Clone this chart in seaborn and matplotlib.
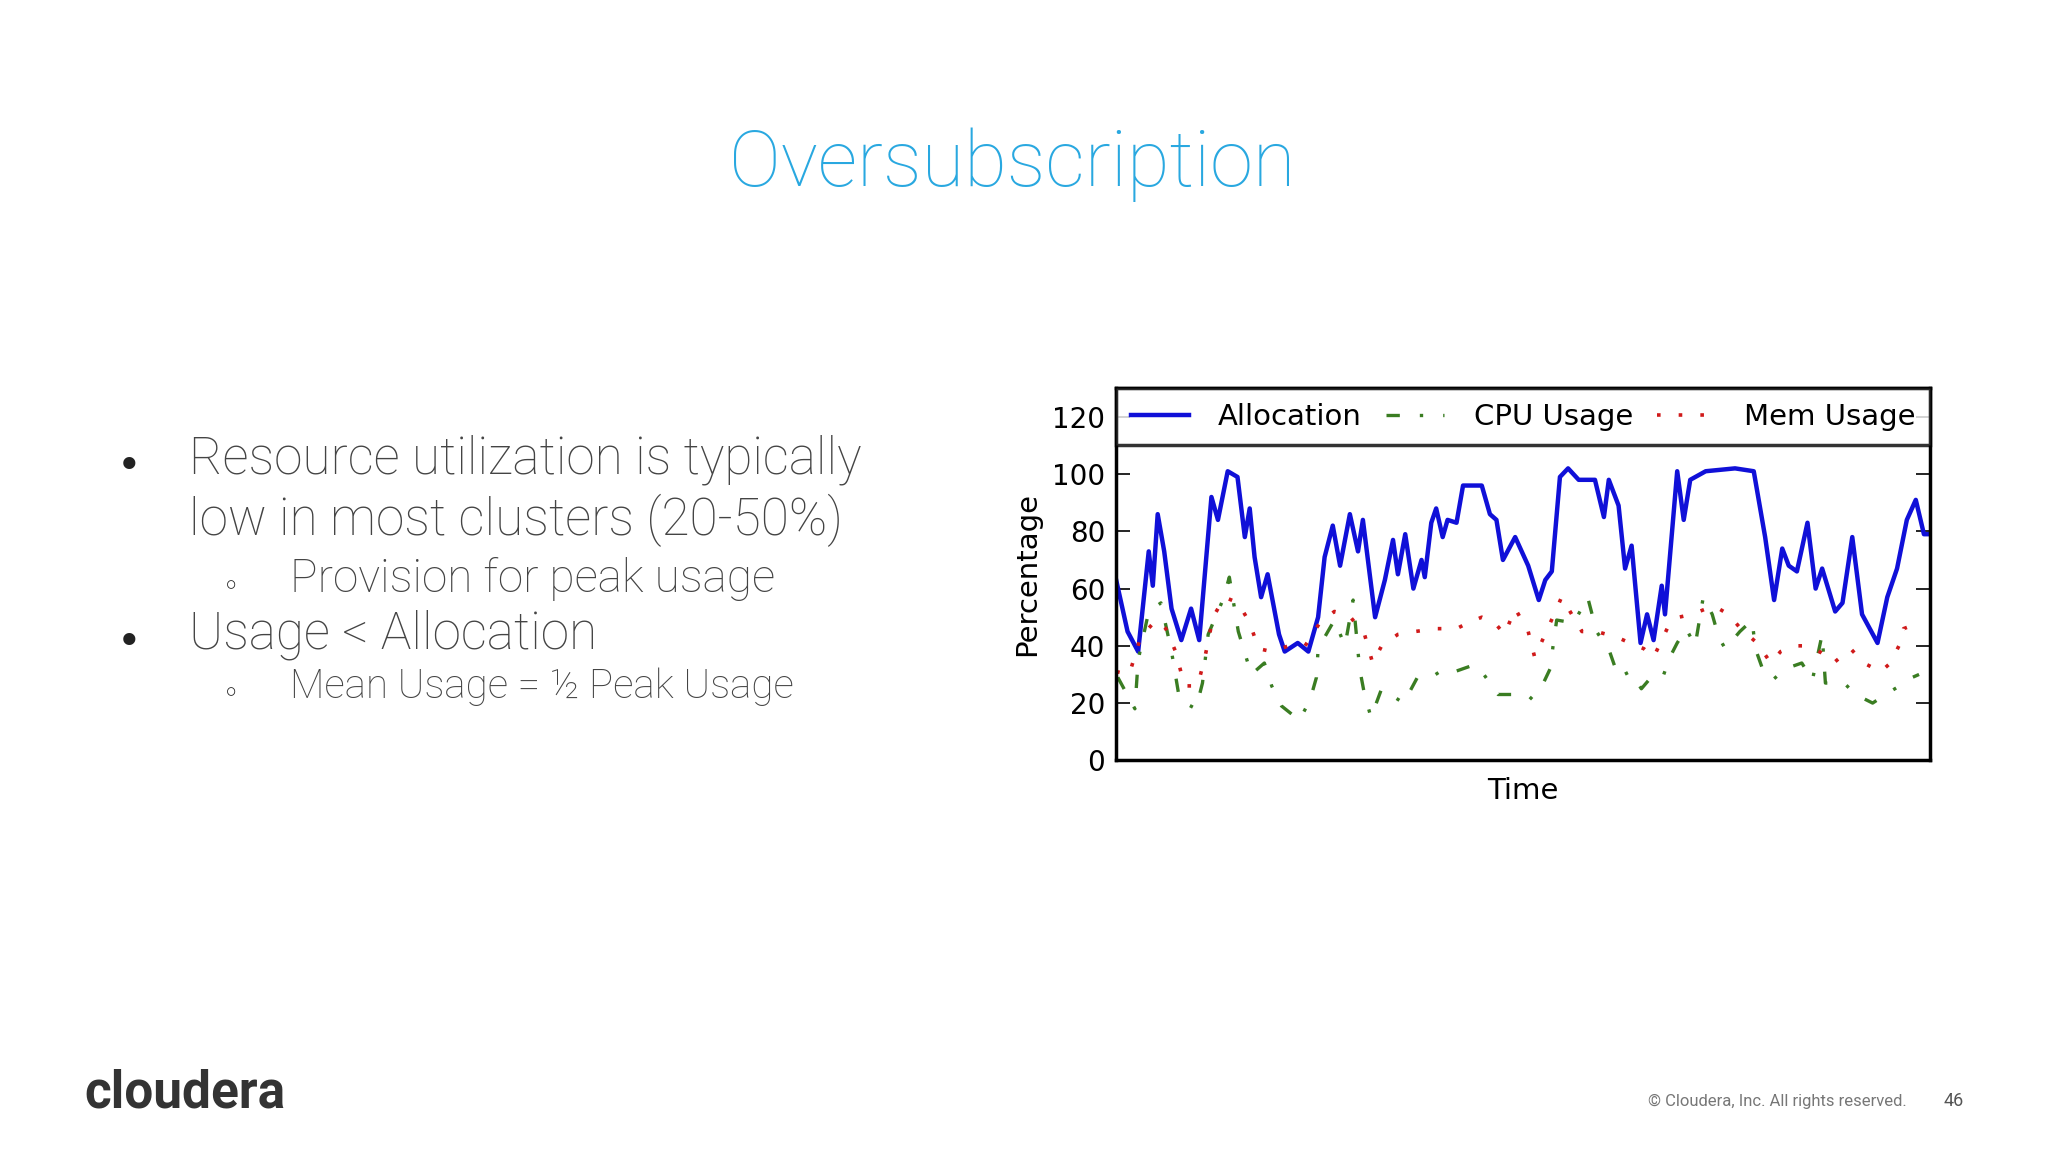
import matplotlib
matplotlib.use("Agg")
import matplotlib.pyplot as plt
import seaborn as sns
import pandas as pd

alloc_t = [0,1.4,2.7,4,4.5,5.1,5.9,6.8,8,9.2,10.2,11.7,12.5,13.7,14.9,15.8,16.4,17,17.8,18.6,20,20.7,22.3,23.6,24.8,25.6,26.6,27.5,28.7,29.7,30.3,31.8,33,34,34.6,35.5,36.5,37.5,37.9,38.7,39.3,40.1,40.7,41.8,42.6,44.9,45.9,46.7,47.5,49,50.6,51.9,52.7,53.5,54.5,55.5,56.8,58.8,59.9,60.5,61.7,62.5,63.3,64.4,65.2,66,67,67.4,68.9,69.7,70.5,72.4,76,78.3,79.7,80.8,81.8,82.6,83.6,84.9,85.9,86.7,88.3,89.2,90.4,91.6,93.5,94.7,95.9,97.1,98.2,99.2,100]
alloc_v = [63,45,38,73,61,86,73,53,42,53,42,92,84,101,99,78,88,71,57,65,44,38,41,38,50,71,82,68,86,73,84,50,63,77,65,79,60,70,64,83,88,78,84,83,96,96,86,84,70,78,68,56,63,66,99,102,98,98,85,98,89,67,75,41,51,42,61,51,101,84,98,101,102,101,78,56,74,68,66,83,60,67,52,55,78,51,41,57,67,84,91,79,79]

cpu_t = [0.2,2.3,2.7,4,5.5,6.8,7.8,9.8,10.6,11.3,13.1,13.9,15,16.6,18.2,19.1,20.3,22.5,23.8,24.6,24.8,26.8,28.1,29.1,29.9,30.5,31.3,32.6,35.3,37,38.7,40.3,41.6,43.6,44.4,46.9,48.6,50.7,52.3,53.3,53.7,54.1,56.2,57.9,59,60.6,61.7,63.1,64.5,65.4,67,68,68.9,70,71.1,72.1,73.2,74,74.8,76.6,78.1,78.5,79.5,80.6,82.2,84.2,85.5,86.7,87.1,89.4,90.8,92.9,94.5,96.2,97.8,98.6]
cpu_v = [29,18,35,52,55,38,21,18,27,44,56,64,45,30,34,26,19,14,21,29,39,49,40,56,32,23,15,25,20,29,29,32,31,33,33,23,23,21,26,32,41,49,48,57,45,38,29,31,25,28,28,36,41,46,40,57,51,43,39,45,49,39,31,28,32,34,28,44,27,27,23,20,23,26,29,30]

mem_t = [0,1.6,3,4.9,6.1,7.3,8.4,10,10.9,11.9,13.3,15,16.4,17.5,19.1,21.2,23.2,25,26.8,28.5,30.5,31.5,32.6,34.6,36.7,39.3,41.8,43.2,44.9,46.5,47.7,49,50.6,51.4,54.1,54.7,57.2,59,61.5,63.1,64.8,66,68,69.1,70.7,73.4,75.2,76.7,78.7,80.4,81.6,83.4,85.3,86.9,88.1,90.2,91.8,93.9,95.1,96.3,96.7,98.6]
mem_v = [31,30,43,49,46,38,26,26,36,50,57,55,48,39,38,40,40,48,52,51,44,34,40,44,45,46,46,48,50,48,44,53,45,36,53,57,45,45,43,41,39,36,48,50,51,54,51,46,41,34,38,40,40,37,34,39,34,31,34,41,46,48]

y_ticks = [0, 20, 40, 60, 80, 100, 120]

fig = plt.figure(figsize=(20.48, 11.52), dpi=100)
fig.patch.set_facecolor("white")

ax = fig.add_axes([0.545, 0.340, 0.3976, 0.323])
sns.lineplot(x=alloc_t, y=alloc_v, ax=ax, color="#1010d8", lw=3.2, label="Allocation")
sns.lineplot(x=cpu_t, y=cpu_v, ax=ax, color="#3a7d22", lw=2.4, linestyle=(0, (4, 6, 1, 6)), label="CPU Usage")
sns.lineplot(x=mem_t, y=mem_v, ax=ax, color="#d01a1a", lw=2.6, linestyle=(0, (1, 5)), label="Mem Usage")
ax.set_xlim(0, 100)
ax.set_ylim(0, 130)
ax.set_yticks(y_ticks)
ax.set_xticks([])
ax.tick_params(axis="y", direction="in", length=10, width=1.2, labelsize=20, right=True, pad=8)
for s in ax.spines.values():
    s.set_linewidth(2.5)
    s.set_color("black")
ax.set_xlabel("Time", fontsize=21, labelpad=12)
ax.set_ylabel("Percentage", fontsize=21, labelpad=8)
leg = ax.legend(loc="upper left", bbox_to_anchor=(0, 0, 1, 1), mode="expand",
                ncol=3, fontsize=21, frameon=True, fancybox=False, borderaxespad=0,
                handlelength=2, handletextpad=1.0, columnspacing=0.8, borderpad=0.5)
leg.get_frame().set_edgecolor("black")
leg.get_frame().set_linewidth(2.5)

fig.text(0.494, 0.857, "Oversubscription", ha="center", va="center", fontsize=56,
         color="#29a8e0", family="Roboto", fontweight="light")

gray = "#444444"
kw = dict(va="center", family="Roboto", fontweight="light", color=gray)
fig.text(0.057, 0.595, "•", fontsize=30, color="#222222", va="center")
fig.text(0.0925, 0.601, "Resource utilization is typically", fontsize=37, **kw)
fig.text(0.0925, 0.548, "low in most clusters (20-50%)", fontsize=37, **kw)
fig.text(0.109, 0.490, "◦", fontsize=20, color="#222222", va="center")
fig.text(0.1415, 0.497, "Provision for peak usage", fontsize=33, **kw)
fig.text(0.057, 0.442, "•", fontsize=30, color="#222222", va="center")
fig.text(0.0925, 0.449, "Usage < Allocation", fontsize=37, **kw)
fig.text(0.109, 0.397, "◦", fontsize=20, color="#222222", va="center")
fig.text(0.1415, 0.404, "Mean Usage = ½ Peak Usage", fontsize=29, **kw)

fig.text(0.041, 0.051, "cloudera", fontsize=37, color="#333333", va="center", family="Roboto", fontweight="bold")
fig.text(0.931, 0.044, "© Cloudera, Inc. All rights reserved.", fontsize=12, color="#777777", ha="right", va="center", family="Roboto")
fig.text(0.954, 0.044, "46", fontsize=13, color="#555555", ha="center", va="center", family="Roboto")

fig.savefig("out.png", dpi=100, facecolor="white")
